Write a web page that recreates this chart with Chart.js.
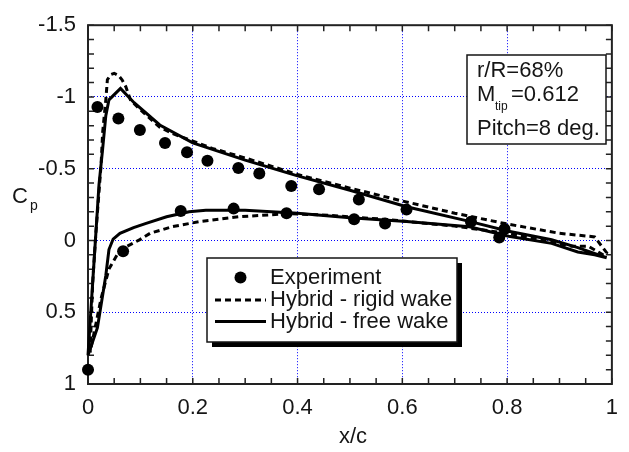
<!DOCTYPE html>
<html>
<head>
<meta charset="utf-8">
<script src="https://cdn.jsdelivr.net/npm/chart.js@4/dist/chart.umd.min.js"></script>
<style>
  html, body { margin: 0; padding: 0; background: #fff; }
  #wrap { width: 629px; height: 452px; }
</style>
</head>
<body>
<div id="wrap"><canvas id="cp"></canvas></div>
<script>
// tick labels
const xTicks = [0, 0.2, 0.4, 0.6, 0.8, 1];
const yTicks = [-1.5, -1, -0.5, 0, 0.5, 1];

// experiment (upper surface, then lower surface)
const expX  = [0.0, 0.018, 0.058, 0.099, 0.147, 0.189, 0.228, 0.287, 0.327, 0.388, 0.441, 0.517, 0.608, 0.731, 0.795,
               0.785, 0.567, 0.508, 0.379, 0.278, 0.177, 0.067];
const expCp = [0.90, -0.93, -0.85, -0.77, -0.68, -0.615, -0.555, -0.505, -0.466, -0.38, -0.357, -0.285, -0.215, -0.13, -0.08,
               -0.02, -0.119, -0.148, -0.19, -0.222, -0.205, 0.075];

// hybrid - rigid wake (dashed)
const rigidX  = [0.004, 0.009, 0.015, 0.025, 0.028, 0.034, 0.037, 0.043, 0.050, 0.058, 0.065, 0.072, 0.081, 0.099, 0.137,
                 0.162, 0.237, 0.3, 0.4, 0.5, 0.6, 0.7, 0.8, 0.9, 0.967, 0.99, 0.986, 0.955, 0.923, 0.8, 0.7, 0.571,
                 0.458, 0.382, 0.287, 0.212, 0.162, 0.119, 0.099, 0.075, 0.056, 0.040, 0.025, 0.004];
const rigidCp = [0.78, 0.29, -0.05, -0.53, -0.755, -0.98, -1.12, -1.155, -1.165, -1.15, -1.12, -1.073, -0.98, -0.914, -0.789,
                 -0.744, -0.642, -0.575, -0.46, -0.365, -0.275, -0.19, -0.115, -0.05, -0.025, 0.085, 0.106, 0.04, 0.04, -0.05, -0.10, -0.146,
                 -0.176, -0.187, -0.165, -0.131, -0.097, -0.051, -0.006, 0.04, 0.097, 0.199, 0.403, 0.78];

// hybrid - free wake (solid)
const freeX  = [0.0, 0.003, 0.009, 0.015, 0.021, 0.028, 0.034, 0.040, 0.062, 0.088, 0.137, 0.2, 0.3, 0.4, 0.5, 0.608,
                0.728, 0.803, 0.885, 0.935, 0.99, 0.967, 0.935, 0.885, 0.803, 0.728, 0.608, 0.5, 0.4, 0.3, 0.225,
                0.193, 0.15, 0.111, 0.087, 0.061, 0.048, 0.040, 0.034, 0.018, 0.0];
const freeCp = [0.80, 0.63, 0.29, -0.05, -0.39, -0.64, -0.87, -0.98, -1.06, -0.96, -0.805, -0.68, -0.56, -0.45, -0.35, -0.235,
                -0.133, -0.064, -0.005, 0.05, 0.12, 0.10, 0.08, 0.02, -0.03, -0.095, -0.132, -0.158, -0.19, -0.21, -0.21,
                -0.2, -0.165, -0.119, -0.09, -0.05, -0.01, 0.063, 0.244, 0.608, 0.80];

const pts = (xs, ys) => xs.map((x, i) => ({ x: x, y: ys[i] }));
const FONT = '"Liberation Sans", Arial, sans-serif';
const INK = '#151515';

// frame with inward ticks on all four sides
const framePlugin = {
    id: 'frame',
    beforeDatasetsDraw(chart) {
        const { ctx, chartArea: a, scales: { x, y } } = chart;
        ctx.save();
        ctx.strokeStyle = '#222';
        ctx.lineWidth = 1.5;
        ctx.beginPath();
        for (let i = 0; i <= 20; i++) {
            const px = x.getPixelForValue(i * 0.05);
            ctx.moveTo(px, a.top); ctx.lineTo(px, a.top + 6);
            ctx.moveTo(px, a.bottom); ctx.lineTo(px, a.bottom - 6);
        }
        for (let i = 0; i <= 25; i++) {
            const py = y.getPixelForValue(-1.5 + i * 0.1);
            ctx.moveTo(a.left, py); ctx.lineTo(a.left + 6, py);
            ctx.moveTo(a.right, py); ctx.lineTo(a.right - 6, py);
        }
        ctx.stroke();
        ctx.lineWidth = 2;
        ctx.strokeRect(a.left, a.top, a.right - a.left, a.bottom - a.top);
        ctx.restore();
    }
};

// axis titles, annotation box and legend
const labelsPlugin = {
    id: 'labels',
    afterDatasetsDraw(chart) {
        const { ctx } = chart;
        ctx.save();
        ctx.fillStyle = INK;
        ctx.textBaseline = 'alphabetic';

        // axis titles
        ctx.font = '22px ' + FONT;
        ctx.textAlign = 'center';
        ctx.fillText('x/c', 353, 443);
        ctx.textAlign = 'left';
        ctx.fillText('C', 12, 203);
        ctx.font = '14px ' + FONT;
        ctx.fillText('p', 30, 210);

        // annotation box
        ctx.fillStyle = '#fff';
        ctx.fillRect(467, 55, 139, 89);
        ctx.strokeStyle = INK;
        ctx.lineWidth = 1.5;
        ctx.strokeRect(467, 55, 139, 89);
        ctx.fillStyle = INK;
        ctx.font = '22px ' + FONT;
        ctx.fillText('r/R=68%', 477, 77);
        ctx.fillText('M', 477, 101);
        ctx.font = '12px ' + FONT;
        ctx.fillText('tip', 495, 110);
        ctx.font = '22px ' + FONT;
        ctx.fillText('=0.612', 511, 101);
        ctx.fillText('Pitch=8 deg.', 477, 135);

        // legend with shadow
        ctx.fillStyle = '#000';
        ctx.fillRect(212, 263, 250, 84);
        ctx.fillStyle = '#fff';
        ctx.fillRect(207, 258, 250, 84);
        ctx.strokeStyle = INK;
        ctx.lineWidth = 1.5;
        ctx.strokeRect(207, 258, 250, 84);

        const ds = chart.data.datasets;
        ctx.fillStyle = ds[0].backgroundColor;
        ctx.beginPath();
        ctx.arc(240.5, 277.5, ds[0].pointRadius, 0, Math.PI * 2);
        ctx.fill();

        ctx.strokeStyle = ds[1].borderColor;
        ctx.lineWidth = ds[1].borderWidth;
        ctx.setLineDash(ds[1].borderDash);
        ctx.beginPath(); ctx.moveTo(215, 300); ctx.lineTo(266, 300); ctx.stroke();
        ctx.setLineDash([]);
        ctx.strokeStyle = ds[2].borderColor;
        ctx.lineWidth = ds[2].borderWidth;
        ctx.beginPath(); ctx.moveTo(215, 321.5); ctx.lineTo(266, 321.5); ctx.stroke();

        ctx.fillStyle = INK;
        ctx.font = '22px ' + FONT;
        ctx.textBaseline = 'middle';
        ds.forEach((d, i) => ctx.fillText(d.label, 270, 278 + i * 22));
        ctx.restore();
    }
};

const gridColor = (edges) => (c) => edges.includes(c.tick.value) ? 'rgba(0,0,0,0)' : '#0000ff';

new Chart(document.getElementById('cp'), {
    type: 'scatter',
    data: {
        datasets: [
            {
                label: 'Experiment',
                data: pts(expX, expCp),
                backgroundColor: '#000',
                borderColor: '#000',
                pointRadius: 6,
                pointBorderWidth: 0,
                showLine: false,
                clip: false
            },
            {
                label: 'Hybrid - rigid wake',
                data: pts(rigidX, rigidCp),
                showLine: true,
                borderColor: '#000',
                borderWidth: 3,
                borderDash: [6, 4],
                pointRadius: 0,
                tension: 0,
                clip: false
            },
            {
                label: 'Hybrid - free wake',
                data: pts(freeX, freeCp),
                showLine: true,
                borderColor: '#000',
                borderWidth: 3,
                pointRadius: 0,
                tension: 0,
                clip: false
            }
        ]
    },
    options: {
        responsive: true,
        maintainAspectRatio: false,
        animation: false,
        events: [],
        layout: { padding: { left: 0, right: 11, top: 17, bottom: 0 } },
        plugins: { legend: { display: false }, tooltip: { enabled: false } },
        scales: {
            x: {
                type: 'linear',
                min: 0,
                max: 1,
                afterBuildTicks: (s) => { s.ticks = xTicks.map(v => ({ value: v })); },
                afterFit: (s) => { s.height = 68; },
                ticks: {
                    padding: 11,
                    color: INK,
                    font: { family: FONT, size: 22 },
                    maxRotation: 0,
                    callback: (v) => String(v)
                },
                grid: { color: gridColor([0, 1]), lineWidth: 1, drawTicks: false },
                border: { display: false, dash: [1, 2] }
            },
            y: {
                type: 'linear',
                reverse: true,
                min: -1.5,
                max: 1,
                afterBuildTicks: (s) => { s.ticks = yTicks.map(v => ({ value: v })); },
                afterFit: (s) => { s.width = 88; },
                ticks: {
                    padding: 12,
                    color: INK,
                    font: { family: FONT, size: 22 },
                    callback: (v) => String(v)
                },
                grid: { color: gridColor([-1.5, 1]), lineWidth: 1, drawTicks: false },
                border: { display: false, dash: [1, 2] }
            }
        }
    },
    plugins: [framePlugin, labelsPlugin]
});
</script>
</body>
</html>
